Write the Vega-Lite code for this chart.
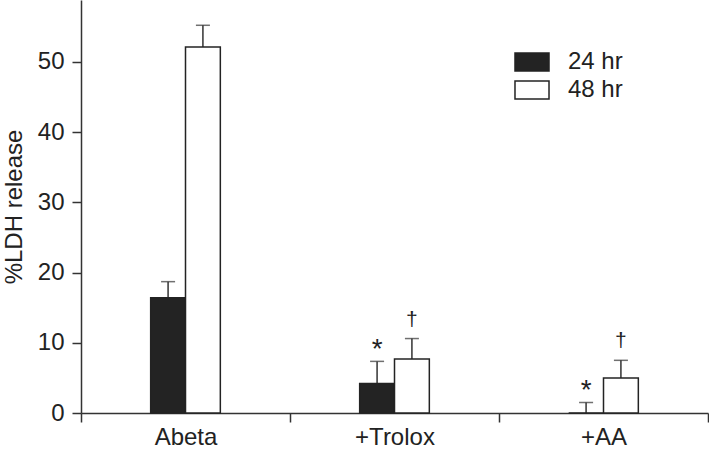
{
  "$schema": "https://vega.github.io/schema/vega-lite/v6.json",
  "autosize": {"type": "none"},
  "width": 627,
  "height": 413,
  "padding": {"left": 81, "top": 0, "right": 1, "bottom": 36},
  "background": "white",
  "config": {
    "view": {"stroke": null},
    "font": "Liberation Sans",
    "axis": {"labelFont": "Liberation Sans", "titleFont": "Liberation Sans", "labelColor": "#222", "titleColor": "#222", "domainColor": "#333", "tickColor": "#333", "domainWidth": 1.5, "tickWidth": 1.5, "tickSize": 9, "grid": false, "labelFontSize": 24, "titleFontSize": 24, "titleFontWeight": "normal"}
  },
  "data": {"values": [
    {"group": "Abeta", "time": "24 hr", "value": 16.4, "upper": 18.7, "sig": ""},
    {"group": "Abeta", "time": "48 hr", "value": 52.1, "upper": 55.2, "sig": ""},
    {"group": "+Trolox", "time": "24 hr", "value": 4.2, "upper": 7.35, "sig": "*"},
    {"group": "+Trolox", "time": "48 hr", "value": 7.7, "upper": 10.6, "sig": "†"},
    {"group": "+AA", "time": "24 hr", "value": 0, "upper": 1.5, "sig": "*"},
    {"group": "+AA", "time": "48 hr", "value": 5.0, "upper": 7.5, "sig": "†"}
  ]},
  "encoding": {
    "x": {"field": "group", "type": "nominal", "sort": ["Abeta", "+Trolox", "+AA"],
      "scale": {"paddingInner": 0, "paddingOuter": 0},
      "axis": {"title": null, "labelAngle": 0, "tickBand": "extent", "labelPadding": 3}},
    "xOffset": {"field": "time", "type": "nominal", "scale": {"domain": ["_a", "_b", "24 hr", "48 hr", "_c", "_d"], "paddingInner": 0, "paddingOuter": 0}}
  },
  "layer": [
    {
      "mark": {"type": "rule", "color": "#333", "strokeWidth": 1.5},
      "encoding": {
        "y": {"field": "value", "type": "quantitative"},
        "y2": {"field": "upper"}
      }
    },
    {
      "mark": {"type": "tick", "color": "#333", "thickness": 1.5, "size": 14},
      "encoding": {
        "y": {"field": "upper", "type": "quantitative"}
      }
    },
    {
      "mark": {"type": "bar", "stroke": "#232323", "strokeWidth": 1.5},
      "encoding": {
        "y": {"field": "value", "type": "quantitative",
          "scale": {"domain": [0, 58.8], "nice": false, "zero": true},
          "axis": {"title": "%LDH release", "values": [0, 10, 20, 30, 40, 50], "labelPadding": 8, "titlePadding": 11}},
        "color": {"field": "time", "type": "nominal",
          "scale": {"domain": ["24 hr", "48 hr"], "range": ["#232323", "#ffffff"]},
          "legend": {"title": null, "orient": "none", "legendX": 439, "legendY": 50,
            "symbolType": "M-1.89,-1H1.89V1H-1.89Z", "symbolSize": 324, "symbolStrokeColor": "#232323", "symbolStrokeWidth": 1.5,
            "labelFontSize": 24, "labelFont": "Liberation Sans", "labelColor": "#222", "labelOffset": 24, "rowPadding": 4, "padding": 0}}
      }
    },
    {
      "transform": [{"filter": "datum.sig == '*'"}],
      "mark": {"type": "text", "fontSize": 28, "dy": -3, "baseline": "alphabetic", "color": "#222"},
      "encoding": {
        "y": {"field": "upper", "type": "quantitative"},
        "text": {"field": "sig"}
      }
    },
    {
      "transform": [{"filter": "datum.sig == '†'"}],
      "mark": {"type": "text", "fontSize": 21, "dy": -13, "baseline": "alphabetic", "color": "#222"},
      "encoding": {
        "y": {"field": "upper", "type": "quantitative"},
        "text": {"field": "sig"}
      }
    }
  ]
}
